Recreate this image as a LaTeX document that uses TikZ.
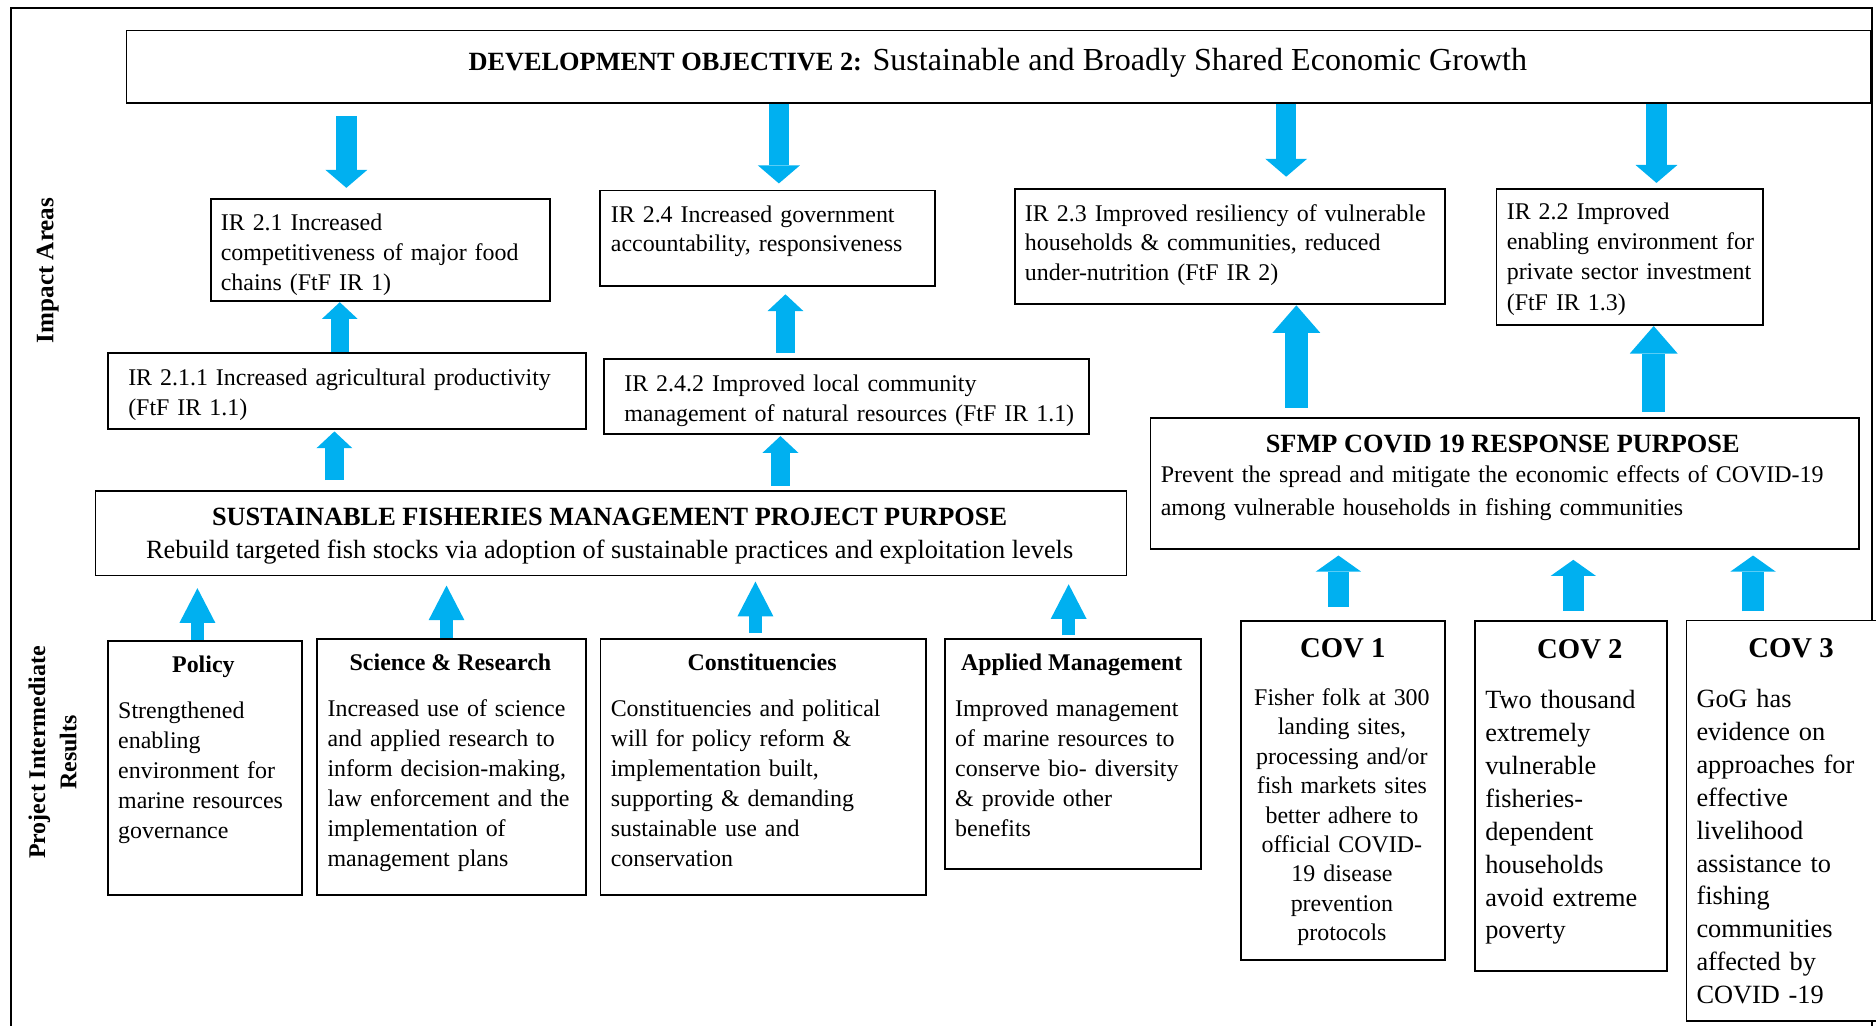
\documentclass[tikz,border=0pt]{standalone}
\usepackage{fontspec}
\setmainfont{Liberation Serif}
\usetikzlibrary{arrows.meta}
\definecolor{arrowblue}{HTML}{00B0F0}
\begin{document}
\begin{tikzpicture}[x=1pt,y=-1pt,
  box/.style={draw=black,line width=1.6pt,inner sep=0pt,anchor=north west,fill=white},
  lightbox/.style={box,line width=1.1pt},
  body/.style={inner sep=0pt,anchor=base west,align=left,text width=620pt,font=\fontsize{20}{#1}\selectfont},
  bodyc/.style={inner sep=0pt,anchor=base,align=center,text width=170pt,font=\fontsize{20}{#1}\selectfont},
  bodyl/.style={inner sep=0pt,anchor=base west,align=left,text width=200pt,font=\fontsize{22}{#1}\selectfont},
  ttl/.style={inner sep=0pt,anchor=base,font=\fontsize{#1}{#1}\selectfont\bfseries},
  line/.style={inner sep=0pt,anchor=base,font=\fontsize{#1}{#1}\selectfont},
  side/.style={inner sep=0pt,rotate=90,align=center,font=\fontsize{#1}{26}\selectfont\bfseries},
  arrA/.style={draw=arrowblue,line width=17pt,-{Triangle[width=35pt,length=15pt,line width=0pt]}},
  arrB/.style={draw=arrowblue,line width=15.5pt,-{Triangle[width=30pt,length=14pt,line width=0pt]}},
  arrC/.style={draw=arrowblue,line width=19.5pt,-{Triangle[width=40pt,length=23pt,line width=0pt]}},
  arrD/.style={draw=arrowblue,line width=10.5pt,-{Triangle[width=30pt,length=29pt,line width=0pt]}},
  arrE/.style={draw=arrowblue,line width=18pt,-{Triangle[width=38pt,length=13.5pt,line width=0pt]}}
]
\useasboundingbox (0,0) rectangle (1568,857.5);
% outer frame
\draw[line width=1.6pt] (9,6.7) rectangle (1565,870);

% boxes
\node[lightbox,minimum width=1458pt,minimum height=60.5pt] (do) at (105,25) {};
\node[box,minimum width=283.5pt,minimum height=85.4pt] (ir21) at (175.5,165.6) {};
\node[box,minimum width=279.8pt,minimum height=79.9pt] (ir24) at (501,158.4) {};
\node[box,minimum width=360pt,minimum height=96.6pt] (ir23) at (847.2,157) {};
\node[box,minimum width=223pt,minimum height=114.1pt] (ir22) at (1250,156.8) {};
\node[box,minimum width=399.4pt,minimum height=64pt] (ir211) at (89.6,294) {};
\node[box,minimum width=405.9pt,minimum height=62.8pt] (ir242) at (503.7,299) {};
\node[lightbox,minimum width=862pt,minimum height=70.8pt] (sfmp) at (79,409.7) {};
\node[lightbox,minimum width=592.1pt,minimum height=109.6pt] (covid) at (961.2,348.7) {};
\node[box,minimum width=162.2pt,minimum height=212.4pt] (policy) at (89.3,534.6) {};
\node[box,minimum width=225pt,minimum height=213.6pt] (sci) at (264,533.4) {};
\node[box,minimum width=271.7pt,minimum height=213.6pt] (cons) at (501.1,533.4) {};
\node[box,minimum width=213.7pt,minimum height=192.6pt] (appl) at (789.3,533.2) {};
\node[box,minimum width=170.8pt,minimum height=282.9pt] (cov1) at (1036.5,518.4) {};
\node[box,minimum width=160.4pt,minimum height=292.1pt] (cov2) at (1232.2,518.4) {};
\node[box,minimum width=166.2pt,minimum height=335pt] (cov3) at (1408.8,517.8) {};

% side labels
\node[side=21] (lblimpact) at (40,226) {Impact Areas};
\node[side=20] (lblproject) at (44,629) {Project Intermediate\\Results};

% texts
\node[inner sep=0pt,anchor=base] (tdo) at (834,59) {{\fontsize{22}{26}\selectfont\bfseries DEVELOPMENT OBJECTIVE 2:}\fontsize{26.8}{30}\selectfont{} Sustainable and Broadly Shared Economic Growth};
\node[body=25] (tir21) at (184.4,193) {IR 2.1 Increased\\competitiveness of major food\\chains (FtF IR 1)};
\node[body=24] (tir24) at (510.4,186.2) {IR 2.4 Increased government\\accountability, responsiveness};
\node[body=24.4] (tir23) at (856.5,185.3) {IR 2.3 Improved resiliency of vulnerable\\households \& communities, reduced\\under-nutrition (FtF IR 2)};
\node[body=25.2] (tir22) at (1259.2,183.6) {IR 2.2 Improved\\enabling environment for\\private sector investment\\(FtF IR 1.3)};
\node[body=25] (tir211) at (107,322) {IR 2.1.1 Increased agricultural productivity\\(FtF IR 1.1)};
\node[body=25] (tir242) at (521.6,327) {IR 2.4.2 Improved local community\\management of natural resources (FtF IR 1.1)};

\node[ttl=22] (tsfmp1) at (509.5,439) {SUSTAINABLE FISHERIES MANAGEMENT PROJECT PURPOSE};
\node[line=22] (tsfmp2) at (509.5,466.6) {Rebuild targeted fish stocks via adoption of sustainable practices and exploitation levels};

\node[ttl=22] (tcov0) at (1256,378) {SFMP COVID 19 RESPONSE PURPOSE};
\node[body=27.2] (tcovb) at (970,403.5) {Prevent the spread and mitigate the economic effects of COVID-19\\among vulnerable households in fishing communities};

\node[ttl=20] (tpol1) at (170,562.4) {Policy};
\node[body=25] (tpol2) at (98.6,600.6) {Strengthened\\enabling\\environment for\\marine resources\\governance};
\node[ttl=20] (tsci1) at (376.5,560.5) {Science \& Research};
\node[body=25] (tsci2) at (273.6,599.2) {Increased use of science\\and applied research to\\inform decision-making,\\law enforcement and the\\implementation of\\management plans};
\node[ttl=20] (tcons1) at (637,560.8) {Constituencies};
\node[body=25] (tcons2) at (510.3,599.2) {Constituencies and political\\will for policy reform \&\\implementation built,\\supporting \& demanding\\sustainable use and\\conservation};
\node[ttl=20] (tappl1) at (895.8,560.8) {Applied Management};
\node[body=25] (tappl2) at (798.2,599.2) {Improved management\\of marine resources to\\conserve bio- diversity\\\& provide other\\benefits};

\node[ttl=24] (tcov11) at (1122.3,549.6) {COV 1};
\node[bodyc=24.6] (tcov12) at (1121.6,589.5) {Fisher folk at 300\\landing sites,\\processing and/or\\fish markets sites\\better adhere to\\official COVID-\\19 disease\\prevention\\protocols};
\node[ttl=24] (tcov21) at (1320.5,550.4) {COV 2};
\node[bodyl=27.5] (tcov22) at (1241.2,592.3) {Two thousand\\extremely\\vulnerable\\fisheries-\\dependent\\households\\avoid extreme\\poverty};
\node[ttl=24] (tcov31) at (1497,549.6) {COV 3};
\node[bodyl=27.5] (tcov32) at (1417.8,591.4) {GoG has\\evidence on\\approaches for\\effective\\livelihood\\assistance to\\fishing\\communities\\affected by\\COVID -19};

% arrows from development objective down
\draw[arrA,shorten <=10.5pt,shorten >=8.6pt] (289.5,0 |- do.south) -- (289.5,0 |- ir21.north);
\draw[arrA,shorten >=5.1pt] (651,0 |- do.south) -- (651,0 |- ir24.north);
\draw[arrA,shorten >=9.3pt] (1075,0 |- do.south) -- (1075,0 |- ir23.north);
\draw[arrA,shorten >=3.9pt] (1384.5,0 |- do.south) -- (1384.5,0 |- ir22.north);

% middle up arrows
\draw[arrB] (284,0 |- ir211.north) -- (284,0 |- ir21.south);
\draw[arrB,shorten <=8.4pt,shorten >=1pt] (279.5,0 |- sfmp.north) -- (279.5,0 |- ir211.south);
\draw[arrB,shorten <=4.1pt,shorten >=6.1pt] (656.5,0 |- ir242.north) -- (656.5,0 |- ir24.south);
\draw[arrB,shorten <=3.7pt,shorten >=1.1pt] (652.3,0 |- sfmp.north) -- (652.3,0 |- ir242.south);

% covid purpose up arrows
\draw[arrC,shorten <=7.7pt] (1083.5,0 |- covid.north) -- (1083.5,0 |- ir23.south);
\draw[arrC,shorten <=4.4pt] (1382.2,0 |- covid.north) -- (1382.2,0 |- ir22.south);

% bottom up arrows to SFMP
\draw[arrD,shorten >=10pt] (165,0 |- policy.north) -- (165,0 |- sfmp.south);
\draw[arrD,shorten >=7.8pt] (373.2,0 |- sci.north) -- (373.2,0 |- sfmp.south);
\draw[arrD,shorten <=4.4pt,shorten >=4.5pt] (631.4,0 |- cons.north) -- (631.4,0 |- sfmp.south);
\draw[arrD,shorten <=2.2pt,shorten >=6.7pt] (893.2,0 |- appl.north) -- (893.2,0 |- sfmp.south);

% COV arrows
\draw[arrE,shorten <=11.2pt,shorten >=4.9pt] (1118.7,0 |- cov1.north) -- (1118.7,0 |- covid.south);
\draw[arrE,shorten <=7.8pt,shorten >=8.5pt] (1315,0 |- cov2.north) -- (1315,0 |- covid.south);
\draw[arrE,shorten <=6.9pt,shorten >=4.9pt] (1465.2,0 |- cov3.north) -- (1465.2,0 |- covid.south);
\end{tikzpicture}
\end{document}
